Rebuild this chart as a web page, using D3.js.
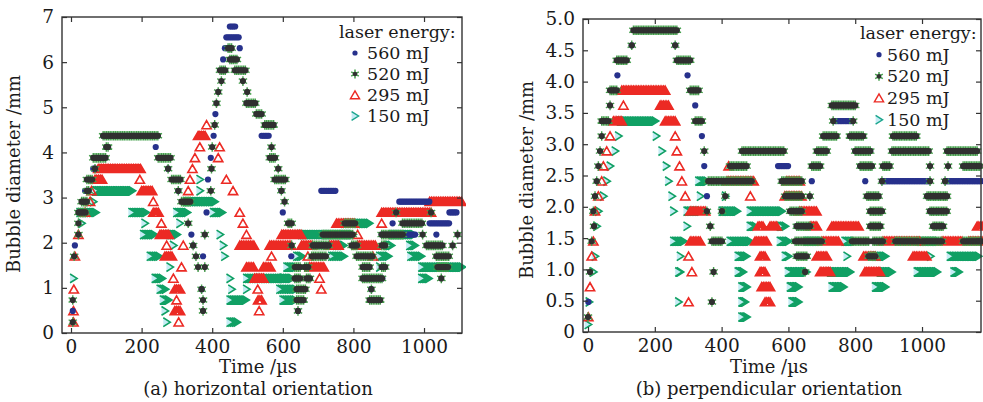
<!DOCTYPE html>
<html><head><meta charset="utf-8">
<script src="https://cdn.jsdelivr.net/npm/d3@7"></script>
<style>body{margin:0;background:#fff}svg{display:block}text{font-family:'DejaVu Serif',serif;fill:#1a1a1a}</style>
</head><body><svg id="c" width="983" height="402"></svg>
<script>
// ---------- DATA: runs of measured frames [tStart µs, tEnd µs, diameter mm] ----------
const frameStep = 5; // camera frame interval, µs
const seriesNames = ["560 mJ", "520 mJ", "295 mJ", "150 mJ"];
const xTicks = [0, 200, 400, 600, 800, 1000];
const yTicksA = [0, 1, 2, 3, 4, 5, 6, 7];
const yTicksB = [0, 0.5, 1.0, 1.5, 2.0, 2.5, 3.0, 3.5, 4.0, 4.5, 5.0];

// (a) horizontal orientation
const a560 = [[5,5,0.49],[11,11,1.94],[40,50,3.15],[63,68,3.64],[100,108,4.12],[91,247,4.37],[240,240,4.12],[275,275,3.64],[304,304,3.15],[341,341,2.18],[346,346,1.94],[374,374,1.70],[370,370,0.97],[384,384,2.67],[388,388,3.40],[396,396,3.88],[404,404,4.37],[409,409,4.85],[431,431,6.06],[436,455,6.31],[440,478,6.55],[450,468,6.79],[478,478,6.31],[540,563,4.37],[596,596,3.15],[600,600,2.67],[624,624,1.70],[634,634,1.21],[643,643,0.49],[709,752,3.15],[685,733,1.94],[827,883,1.21],[836,836,1.46],[850,850,0.97],[880,978,2.18],[911,911,2.43],[1016,1072,2.43],[930,1016,2.91],[1072,1092,2.67],[1035,1035,2.18]];
const a520 = [[5,5,0.24],[5,5,0.73],[9,9,1.70],[21,21,2.18],[21,21,2.43],[21,45,2.67],[30,45,2.91],[45,50,3.15],[45,63,3.40],[68,68,3.64],[63,100,3.88],[100,108,4.12],[91,247,4.37],[247,285,3.88],[275,275,3.64],[285,313,3.40],[304,304,3.15],[313,341,2.91],[332,332,2.43],[346,346,1.94],[354,354,1.70],[360,360,1.46],[379,379,1.46],[370,370,0.97],[374,374,0.73],[374,374,0.49],[379,379,2.18],[396,396,3.15],[398,398,3.64],[400,400,4.12],[407,407,4.61],[412,412,5.09],[417,417,5.34],[426,426,5.58],[422,440,5.82],[450,473,6.06],[445,455,6.31],[464,497,5.82],[487,487,5.58],[499,499,5.34],[497,525,5.09],[525,540,4.85],[549,577,4.61],[568,568,4.12],[563,582,3.88],[587,587,3.64],[577,610,3.40],[596,596,3.15],[605,605,2.91],[615,625,2.43],[625,629,1.94],[634,653,1.46],[634,653,1.21],[639,667,0.97],[639,662,0.73],[643,643,0.49],[662,676,1.46],[667,681,1.21],[682,724,1.70],[685,733,1.94],[713,798,2.18],[775,808,2.43],[795,812,1.94],[809,855,1.70],[826,846,1.46],[826,883,1.21],[851,851,0.97],[846,880,0.73],[880,894,1.94],[880,894,1.46],[880,940,2.18],[921,921,2.67],[939,996,2.43],[996,996,2.18],[1007,1052,1.94],[1020,1020,2.67],[1035,1072,1.70],[1038,1072,1.46],[1049,1049,1.21],[1095,1095,2.18],[1081,1081,1.94]];
const a295 = [[7,7,0.24],[7,7,0.49],[8,8,0.97],[11,11,1.70],[21,21,2.18],[40,40,2.67],[54,54,2.91],[58,58,3.15],[68,91,3.40],[77,200,3.64],[195,195,3.40],[200,233,3.15],[233,233,2.91],[233,252,2.67],[256,256,2.43],[252,280,2.18],[271,271,1.94],[266,290,1.70],[290,290,1.21],[294,313,0.97],[299,299,0.73],[294,313,0.49],[305,305,0.24],[313,313,1.46],[318,318,1.94],[332,332,3.15],[337,337,3.40],[344,344,3.64],[351,351,3.88],[365,365,4.12],[360,384,4.37],[384,384,4.61],[421,421,4.12],[417,417,3.88],[440,440,3.40],[459,459,3.15],[478,478,2.67],[487,487,2.43],[497,497,2.18],[478,520,1.94],[497,520,1.46],[520,545,1.21],[529,529,0.97],[530,540,0.73],[533,533,0.49],[545,568,1.46],[563,625,1.94],[568,568,1.70],[597,656,2.18],[653,685,1.94],[671,671,1.70],[676,718,1.46],[704,704,1.21],[709,709,0.97],[733,761,1.94],[752,803,2.43],[812,812,2.18],[812,865,1.94],[855,855,1.70],[880,880,2.43],[880,1024,2.67],[1016,1110,2.91]];
const a150 = [[7,7,1.21],[30,30,2.43],[25,73,2.67],[63,63,2.91],[68,176,3.15],[172,214,2.67],[209,209,2.43],[205,238,2.18],[224,252,1.70],[238,261,1.21],[252,271,0.97],[261,280,0.73],[266,266,0.49],[271,271,0.24],[280,280,1.46],[290,290,1.94],[280,304,2.18],[299,332,2.67],[308,308,2.43],[327,407,2.91],[365,365,3.15],[365,365,3.40],[403,431,2.67],[422,422,2.18],[431,431,1.94],[435,435,1.70],[450,450,1.21],[455,455,0.97],[450,497,0.73],[450,473,0.24],[497,497,0.97],[497,605,1.21],[600,625,1.21],[591,639,0.97],[600,639,0.73],[611,639,1.46],[639,656,1.70],[653,798,2.18],[738,775,1.70],[752,775,1.94],[775,846,2.43],[874,874,1.46],[874,902,1.70],[897,911,1.94],[911,973,2.18],[962,993,1.70],[959,978,1.94],[993,1110,1.46],[993,1016,1.21]];

// (b) perpendicular orientation
const b560 = [[1,1,0.48],[88,88,4.10],[131,131,4.58],[261,261,4.58],[298,298,4.10],[321,321,3.62],[341,341,3.13],[348,348,2.65],[356,356,2.17],[569,599,2.65],[670,670,2.41],[740,790,3.37],[800,845,2.89],[815,853,2.65],[830,830,2.41],[880,1024,2.41],[1069,1180,2.41],[1015,1050,2.17],[1024,1050,1.93],[625,650,1.69],[625,650,1.21],[840,860,1.21]];
const b520 = [[0,0,0.24],[6,6,0.96],[11,11,1.45],[16,16,1.93],[18,18,1.69],[21,21,2.17],[26,26,2.41],[31,31,2.65],[36,36,2.89],[41,41,3.13],[41,61,3.37],[66,66,3.62],[66,86,3.86],[86,116,4.34],[131,131,4.58],[136,266,4.82],[261,261,4.58],[266,306,4.34],[306,331,3.86],[321,341,3.37],[348,348,2.89],[356,356,1.93],[366,366,1.69],[371,401,1.45],[376,376,0.96],[371,371,0.48],[411,411,2.17],[401,401,1.93],[360,490,2.41],[425,476,2.65],[461,590,2.89],[580,640,2.41],[590,640,2.17],[605,640,1.93],[625,665,1.69],[620,700,1.45],[625,655,1.21],[650,650,0.96],[664,664,2.17],[670,695,2.65],[685,715,2.89],[704,745,3.13],[730,800,3.62],[734,734,3.37],[794,794,3.37],[784,824,3.13],[800,845,2.89],[815,853,2.65],[835,874,2.17],[845,884,1.93],[845,875,1.69],[790,844,1.45],[853,883,1.45],[840,860,1.21],[883,905,2.65],[913,985,3.13],[910,1024,2.89],[880,880,2.41],[1024,1024,2.41],[1024,1024,2.65],[1078,1078,2.65],[1123,1173,2.65],[1015,1075,2.17],[1024,1075,1.93],[1033,1063,1.69],[1075,1168,2.89],[920,994,1.45],[1000,1060,1.45],[1123,1180,1.45],[1069,1069,2.41]];
const b295 = [[1,1,0.24],[6,6,0.72],[11,11,1.21],[16,16,1.45],[21,21,1.93],[31,31,2.17],[41,41,2.41],[46,46,2.65],[56,56,2.89],[66,66,3.13],[76,101,3.37],[106,106,3.62],[101,231,3.86],[216,241,3.62],[231,261,3.37],[261,261,3.13],[266,266,2.89],[274,274,2.65],[281,281,2.41],[291,291,2.17],[306,351,1.93],[306,336,1.45],[301,301,1.21],[311,311,0.96],[301,301,0.48],[421,421,2.65],[416,496,2.41],[486,486,2.17],[509,524,1.69],[545,566,1.69],[500,539,1.45],[515,530,1.21],[515,530,0.96],[520,545,0.72],[530,545,0.48],[594,634,2.41],[589,640,2.17],[634,685,1.93],[665,685,1.69],[730,814,1.69],[700,754,1.45],[685,719,1.21],[695,725,0.96],[825,860,1.21],[829,874,0.96],[883,994,1.45],[1060,1123,1.45],[1140,1180,1.45],[973,1015,1.21],[1165,1180,1.69]];
const b150 = [[0,0,0.12],[3,3,0.48],[16,16,0.96],[21,21,1.21],[26,26,1.69],[31,31,1.93],[46,46,2.17],[56,56,2.41],[66,66,2.65],[81,81,2.89],[91,91,3.13],[96,201,3.37],[204,204,3.13],[221,221,2.89],[234,234,2.65],[241,241,2.41],[251,251,2.17],[256,256,1.93],[296,296,1.69],[256,286,1.45],[276,276,1.21],[271,276,0.96],[271,271,0.48],[331,356,2.41],[336,336,2.17],[296,336,1.93],[401,446,1.93],[411,411,2.17],[425,485,1.45],[449,476,1.21],[449,464,0.96],[460,475,0.72],[460,470,0.48],[460,475,0.24],[485,500,1.69],[485,584,1.93],[575,590,1.69],[575,600,1.45],[590,600,1.21],[599,655,0.96],[605,630,0.72],[610,630,0.48],[655,700,1.45],[725,785,0.96],[730,765,0.72],[769,800,1.45],[775,775,1.21],[860,890,1.21],[874,910,0.96],[860,890,0.72],[994,1050,1.45],[1025,1025,1.21],[1084,1170,1.21],[985,1045,0.96],[1095,1110,0.96]];

// ---------- DRAWING ----------
const svg = d3.select("#c");
const C = {blue:"#27318c", dark:"#303030", green:"#45a04c", red:"#ec2a24", chev:"#10a064", cyan:"#c4ecf4", axis:"#333"};

function expand(runs){
  const pts = [];
  runs.forEach(([t0,t1,d]) => { for (let t=t0; t<=t1+1e-6; t+=frameStep) pts.push([t,d]); });
  return pts;
}
const triPath = (x,y)=>`M${x-4.6},${y+3.8}L${x+4.6},${y+3.8}L${x},${y-4.2}Z`;
const chevPath = (x,y)=>`M${x-3.4},${y-4.4}L${x+3.6},${y}L${x-3.4},${y+4.4}`;
const chevFill = (x,y)=>`M${x-3.4},${y-4.4}L${x+3.6},${y}L${x-3.4},${y+4.4}Z`;
function starPath(x,y,r){ let p=""; for(let i=0;i<3;i++){const a=Math.PI*i/3+Math.PI/2; p+=`M${x-r*Math.cos(a)},${y-r*Math.sin(a)}L${x+r*Math.cos(a)},${y+r*Math.sin(a)}`;} return p; }

function drawMarkers(g, type, pts, x, y){
  if (type==="150"){
    g.append("path").attr("d", pts.map(p=>chevFill(x(p[0]),y(p[1]))).join("")).attr("fill",C.cyan).attr("stroke","none");
    g.append("path").attr("d", pts.map(p=>chevPath(x(p[0]),y(p[1]))).join("")).attr("fill","none").attr("stroke",C.chev).attr("stroke-width",1.6);
  } else if (type==="295"){
    g.append("path").attr("d", pts.map(p=>triPath(x(p[0]),y(p[1]))).join("")).attr("fill","none").attr("stroke",C.red).attr("stroke-width",1.6).attr("stroke-linejoin","miter");
  } else if (type==="560"){
    g.selectAll(null).data(pts).join("circle").attr("cx",p=>x(p[0])).attr("cy",p=>y(p[1])).attr("r",3.1).attr("fill",C.blue);
  } else {
    g.append("path").attr("d", pts.map(p=>starPath(x(p[0]),y(p[1]),4.8)).join("")).attr("stroke",C.green).attr("stroke-width",1.4).attr("fill","none");
    g.selectAll(null).data(pts).join("circle").attr("cx",p=>x(p[0])).attr("cy",p=>y(p[1])).attr("r",3.1).attr("fill",C.dark);
  }
}

function panel(cfg){
  const x = d3.scaleLinear().domain(cfg.xDomain).range([cfg.left, cfg.right]);
  const y = d3.scaleLinear().domain(cfg.yDomain).range([cfg.bottom, cfg.top]);
  const clipId = "clip"+cfg.id;
  svg.append("clipPath").attr("id",clipId).append("rect")
    .attr("x",cfg.left).attr("y",cfg.top-6).attr("width",cfg.right-cfg.left+4).attr("height",cfg.bottom-cfg.top+6);
  const g = svg.append("g").attr("clip-path",`url(#${clipId})`);
  const order = [["150",cfg.s150],["295",cfg.s295],["560",cfg.s560],["520",cfg.s520]];
  order.forEach(([t,r])=>drawMarkers(g.append("g"), t, expand(r), x, y));

  // axes (inward ticks on all sides)
  const tk = 5;
  const xb = svg.append("g").attr("transform",`translate(0,${cfg.bottom})`)
    .call(d3.axisBottom(x).tickValues(xTicks).tickSize(-tk).tickPadding(8).tickFormat(d3.format("d")));
  const xt = svg.append("g").attr("transform",`translate(0,${cfg.top})`)
    .call(d3.axisTop(x).tickValues(xTicks).tickSize(-tk).tickFormat(""));
  const yl = svg.append("g").attr("transform",`translate(${cfg.left},0)`)
    .call(d3.axisLeft(y).tickValues(cfg.yTicks).tickSize(-tk).tickPadding(8).tickFormat(cfg.yFmt));
  const yr = svg.append("g").attr("transform",`translate(${cfg.right},0)`)
    .call(d3.axisRight(y).tickValues(cfg.yTicks).tickSize(-tk).tickFormat(""));
  [xb,xt,yl,yr].forEach(a=>{
    a.select(".domain").remove();
    a.selectAll("line").attr("stroke",C.axis).attr("stroke-width",1.2);
    a.selectAll("text").attr("font-family","'DejaVu Serif',serif").attr("font-size",18.5).attr("fill","#1a1a1a");
  });
  xb.selectAll("text").attr("dy","0.66em");
  svg.append("rect").attr("x",cfg.left).attr("y",cfg.top).attr("width",cfg.right-cfg.left).attr("height",cfg.bottom-cfg.top)
    .attr("fill","none").attr("stroke",C.axis).attr("stroke-width",1.4);

  // titles
  svg.append("text").attr("transform",`translate(${cfg.yTitleX},${cfg.yTitleY}) rotate(-90)`)
    .attr("text-anchor","middle").attr("font-size",18).text("Bubble diameter /mm");
  svg.append("text").attr("x",cfg.xTitleX).attr("y",373).attr("text-anchor","middle").attr("font-size",18).text("Time /\u00b5s");
  svg.append("text").attr("x",cfg.xTitleX).attr("y",395).attr("text-anchor","middle").attr("font-size",18).text(cfg.caption);

  // legend
  const L = svg.append("g");
  L.append("text").attr("x",cfg.legX).attr("y",cfg.legY+6).attr("font-size",17.5).text("laser energy:");
  const types = ["560","520","295","150"];
  types.forEach((t,i)=>{
    const yy = cfg.legY + cfg.legDy*(i+1);
    const mx = cfg.legMX;
    const lg = L.append("g");
    if (t==="560") lg.append("circle").attr("cx",mx).attr("cy",yy).attr("r",2.6).attr("fill",C.blue);
    if (t==="520"){ lg.append("path").attr("d",starPath(mx,yy,4.4)).attr("stroke",C.green).attr("stroke-width",1.5); lg.append("circle").attr("cx",mx).attr("cy",yy).attr("r",2.3).attr("fill",C.dark); }
    if (t==="295") lg.append("path").attr("d",triPath(mx,yy)).attr("fill","none").attr("stroke",C.red).attr("stroke-width",1.4);
    if (t==="150"){ lg.append("path").attr("d",chevFill(mx,yy)).attr("fill",C.cyan); lg.append("path").attr("d",chevPath(mx,yy)).attr("fill","none").attr("stroke","#1aa58c").attr("stroke-width",1.4); }
    L.append("text").attr("x",cfg.legTX).attr("y",yy+6).attr("font-size",17.5).text(seriesNames[i]);
  });
}

panel({id:"a", left:62, right:462, top:17, bottom:333, xDomain:[-25.5,1107.6], yDomain:[0,7],
  yTicks:yTicksA, yFmt:d3.format("d"), s560:a560, s520:a520, s295:a295, s150:a150,
  yTitleX:20, yTitleY:174, xTitleX:258, caption:"(a) horizontal orientation",
  legX:339, legY:32, legDy:21, legMX:355, legTX:367});
panel({id:"b", left:583, right:981, top:19, bottom:332, xDomain:[-15,1176.6], yDomain:[0,5],
  yTicks:yTicksB, yFmt:d=>d===0?"0":d3.format(".1f")(d), s560:b560, s520:b520, s295:b295, s150:b150,
  yTitleX:533, yTitleY:180, xTitleX:769, caption:"(b) perpendicular orientation",
  legX:860, legY:33, legDy:21.7, legMX:879, legTX:887});
</script></body></html>
